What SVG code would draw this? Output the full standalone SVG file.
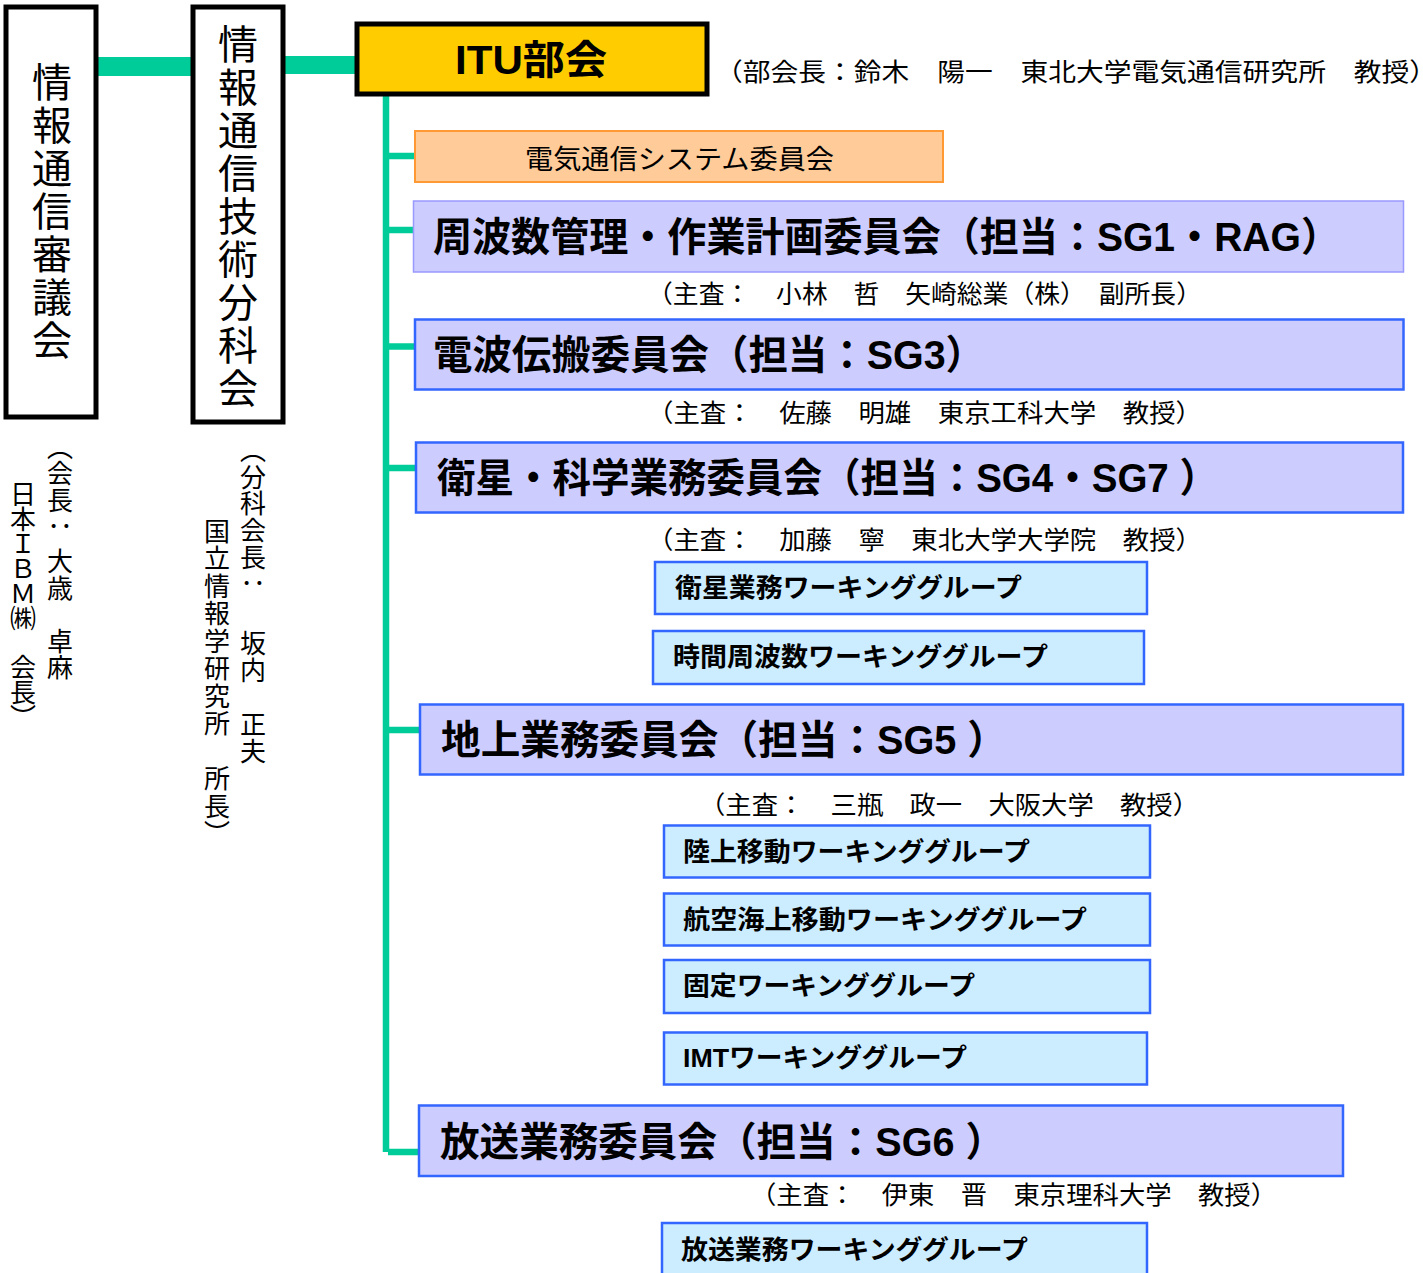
<svg xmlns="http://www.w3.org/2000/svg" width="1423" height="1273" viewBox="0 0 1423 1273">
<style>
.frame{fill:#fff;stroke:#000;stroke-width:5}
.itu{fill:#FFCC00;stroke:#000;stroke-width:5}
.sys{fill:#FFCC99;stroke:#FF9933;stroke-width:2}
.com{fill:#CCCCFF;stroke:#3366FF;stroke-width:2.5}
.com1{fill:#CCCCFF;stroke:#9999FF;stroke-width:1.5}
.wg{fill:#CCECFF;stroke:#3366FF;stroke-width:2.5}
.conn line{stroke:#00CC99;fill:none}
text{fill:#000}
.vt{font-family:"Noto Sans CJK JP","Noto Sans CJK SC",sans-serif;writing-mode:vertical-rl}
.big{font-size:40px;letter-spacing:3px}
.small{font-size:26px}
.title{font-family:"Liberation Sans","Noto Sans CJK JP",sans-serif;font-weight:bold;font-size:40px;dominant-baseline:central}
.sub{font-family:"Noto Sans CJK JP",sans-serif;font-size:25px;dominant-baseline:central}
.wgt{font-family:"Liberation Sans","Noto Sans CJK JP",sans-serif;font-weight:bold;font-size:26px;dominant-baseline:central}
</style>

<g class="conn" id="connectors">
  <line x1="97" y1="66.5" x2="192" y2="66.5" stroke-width="19"/>
  <line x1="284" y1="65" x2="356" y2="65" stroke-width="18"/>
  <line x1="386" y1="96" x2="386" y2="1152" stroke-width="6.5"/>
  <line x1="386" y1="156" x2="415" y2="156" stroke-width="6.5"/>
  <line x1="386" y1="230" x2="413" y2="230" stroke-width="6.5"/>
  <line x1="386" y1="346.5" x2="414" y2="346.5" stroke-width="6.5"/>
  <line x1="386" y1="468" x2="416" y2="468" stroke-width="6.5"/>
  <line x1="386" y1="730" x2="420" y2="730" stroke-width="6.5"/>
  <line x1="388" y1="1152" x2="419" y2="1152" stroke-width="6.5"/>
</g>

<g id="council">
  <rect class="frame" x="6" y="7" width="90" height="410"/>
  <text class="vt big" x="52" y="62">情報通信審議会</text>
  <text class="vt small" x="60" y="434" letter-spacing="0.5">（会長：<tspan y="522">　大歳　卓麻</tspan></text>
  <text class="vt small" x="23" y="481" letter-spacing="-1.2">日本ＩＢＭ㈱　会長）</text>
</g>

<g id="subcommittee">
  <rect class="frame" x="193" y="7" width="90" height="415"/>
  <text class="vt big" x="238" y="24">情報通信技術分科会</text>
  <text class="vt small" x="253" y="437" letter-spacing="0.7">（分科会長：<tspan y="604">　坂内</tspan><tspan y="685">　正夫</tspan></text>
  <text class="vt small" x="217" y="518" letter-spacing="1.5">国立情報学研究所　所長）</text>
</g>

<g id="itu">
  <rect class="itu" x="357" y="24" width="350" height="70"/>
  <text class="title" x="455" y="60" textLength="152" lengthAdjust="spacingAndGlyphs">ITU部会</text>
  <text class="sub" x="715" y="70" textLength="722" lengthAdjust="spacingAndGlyphs">（部会長：鈴木　陽一　東北大学電気通信研究所　教授）</text>
</g>

<g id="sys">
  <rect class="sys" x="415" y="131" width="528" height="51"/>
  <text class="sub" x="525" y="157" style="font-size:27px" textLength="309" lengthAdjust="spacingAndGlyphs">電気通信システム委員会</text>
</g>

<g id="freq">
  <rect class="com1" x="413.5" y="201" width="990" height="71"/>
  <text class="title" x="433" y="237" textLength="907" lengthAdjust="spacingAndGlyphs">周波数管理・作業計画委員会（担当：SG1・RAG）</text>
  <text class="sub" x="647" y="292" textLength="555" lengthAdjust="spacingAndGlyphs">（主査：　小林　哲　矢崎総業（株）　副所長）</text>
</g>

<g id="prop">
  <rect class="com" x="415" y="319.5" width="988.5" height="70"/>
  <text class="title" x="433" y="355" textLength="552" lengthAdjust="spacingAndGlyphs">電波伝搬委員会（担当：SG3）</text>
  <text class="sub" x="647" y="411" textLength="555" lengthAdjust="spacingAndGlyphs">（主査：　佐藤　明雄　東京工科大学　教授）</text>
</g>

<g id="sat">
  <rect class="com" x="416" y="442.5" width="987" height="70"/>
  <text class="title" x="437" y="478" textLength="781" lengthAdjust="spacingAndGlyphs">衛星・科学業務委員会（担当：SG4・SG7 ）</text>
  <text class="sub" x="647" y="538" textLength="555" lengthAdjust="spacingAndGlyphs">（主査：　加藤　寧　東北大学大学院　教授）</text>
</g>

<g id="wg-sat">
  <rect class="wg" x="655" y="562" width="492" height="52"/>
  <text class="wgt" x="675" y="588" textLength="347" lengthAdjust="spacingAndGlyphs">衛星業務ワーキンググループ</text>
</g>

<g id="wg-time">
  <rect class="wg" x="653" y="631" width="491" height="53"/>
  <text class="wgt" x="673" y="657" textLength="375" lengthAdjust="spacingAndGlyphs">時間周波数ワーキンググループ</text>
</g>

<g id="terr">
  <rect class="com" x="420" y="704.5" width="983" height="70"/>
  <text class="title" x="441" y="740" textLength="566" lengthAdjust="spacingAndGlyphs">地上業務委員会（担当：SG5 ）</text>
  <text class="sub" x="699" y="803" textLength="500" lengthAdjust="spacingAndGlyphs">（主査：　三瓶　政一　大阪大学　教授）</text>
</g>

<g id="wg-land">
  <rect class="wg" x="664" y="825.5" width="486" height="52"/>
  <text class="wgt" x="683" y="852" textLength="347" lengthAdjust="spacingAndGlyphs">陸上移動ワーキンググループ</text>
</g>

<g id="wg-aero">
  <rect class="wg" x="664" y="893.5" width="486" height="52"/>
  <text class="wgt" x="683" y="920" textLength="404" lengthAdjust="spacingAndGlyphs">航空海上移動ワーキンググループ</text>
</g>

<g id="wg-fixed">
  <rect class="wg" x="664" y="960" width="486" height="53"/>
  <text class="wgt" x="683" y="986" textLength="292" lengthAdjust="spacingAndGlyphs">固定ワーキンググループ</text>
</g>

<g id="wg-imt">
  <rect class="wg" x="664" y="1032.5" width="483" height="52"/>
  <text class="wgt" x="683" y="1058" textLength="284" lengthAdjust="spacingAndGlyphs">IMTワーキンググループ</text>
</g>

<g id="bcast">
  <rect class="com" x="419" y="1105.5" width="924" height="70.5"/>
  <text class="title" x="440" y="1142" textLength="565" lengthAdjust="spacingAndGlyphs">放送業務委員会（担当：SG6 ）</text>
  <text class="sub" x="750" y="1193" textLength="527" lengthAdjust="spacingAndGlyphs">（主査：　伊東　晋　東京理科大学　教授）</text>
</g>

<g id="wg-bcast">
  <rect class="wg" x="662" y="1223" width="485" height="60"/>
  <text class="wgt" x="681" y="1250" textLength="347" lengthAdjust="spacingAndGlyphs">放送業務ワーキンググループ</text>
</g>
</svg>
